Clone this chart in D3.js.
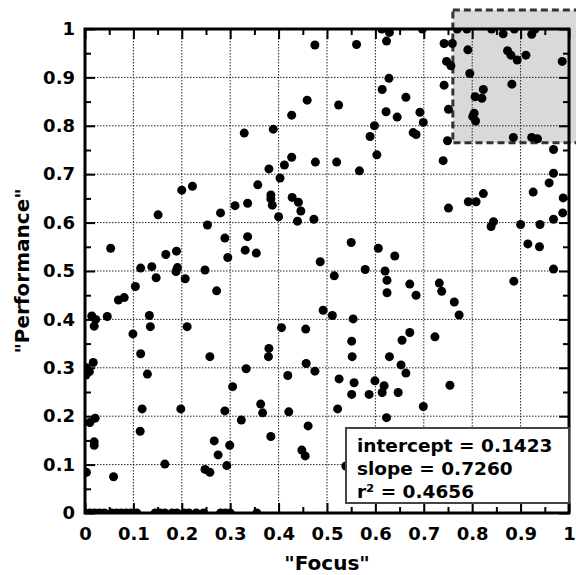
<!DOCTYPE html>
<html lang="en">
<head>
    <meta charset="UTF-8">
    <title>Focus vs Performance</title>
    <script src="https://d3js.org/d3.v7.min.js"></script>
    <style>
        body {
            margin: 0;
            background: #fff;
            font-family: "DejaVu Sans", sans-serif;
        }
        .tick-label text {
            font-size: 18px;
            font-weight: bold;
            fill: #000;
        }
        .axis-title {
            font-size: 20px;
            font-weight: bold;
        }
        .stats-text {
            font-size: 18.5px;
            font-weight: bold;
        }
    </style>
</head>
<body>
    <div id="chart"></div>
    <script>
        // values
        const focus = [
            0.329, 0.200, 0.222, 0.475, 0.561, 0.629, 0.613, 0.623, 0.628, 0.614, 0.663, 0.459, 0.524, 0.427,
            0.622, 0.645, 0.598, 0.389, 0.589, 0.603, 0.427, 0.412, 0.380, 0.476, 0.520, 0.567, 0.403, 0.357,
            0.697, 0.742, 0.759, 0.747, 0.756, 0.742, 0.692, 0.699, 0.678, 0.684, 0.751, 0.749, 0.740,
            0.769, 0.789, 0.791, 0.795, 0.823, 0.806, 0.820, 0.804, 0.801, 0.807, 0.840, 0.864, 0.887, 0.923,
            0.930, 0.873, 0.880, 0.893, 0.911, 0.986, 0.882, 0.885, 0.923, 0.935, 0.968, 0.968, 0.959,
            0.151, 0.053, 0.310, 0.336, 0.280, 0.253, 0.289, 0.336, 0.331, 0.295, 0.167, 0.189, 0.115, 0.138,
            0.147, 0.191, 0.188, 0.207, 0.248, 0.272, 0.104, 0.069, 0.081, 0.014, 0.022, 0.019, 0.046, 0.133,
            0.135, 0.099, 0.211,
            0.384, 0.384, 0.387, 0.428, 0.441, 0.446, 0.439, 0.473, 0.400, 0.354, 0.550, 0.606, 0.640, 0.486,
            0.515, 0.579, 0.620, 0.624, 0.624, 0.671, 0.492, 0.511, 0.554, 0.406, 0.456, 0.551, 0.655, 0.671, 0.380,
            0.926, 0.988, 0.987, 0.968, 0.940, 0.900, 0.915, 0.939, 0.968, 0.886, 0.823, 0.792, 0.808, 0.751,
            0.844, 0.839, 0.684, 0.732, 0.737, 0.763, 0.773, 0.723,
            0.017, 0.009, 0.003, 0.002, 0.115, 0.129, 0.258, 0.333, 0.305, 0.118, 0.198, 0.289, 0.323, 0.021,
            0.010, 0.114, 0.019, 0.019, 0.267, 0.299, 0.275, 0.293, 0.165, 0.248, 0.258, 0.003, 0.059,
            0.379, 0.419, 0.457, 0.475, 0.525, 0.556, 0.552, 0.551, 0.587, 0.599, 0.618, 0.614, 0.647, 0.629,
            0.653, 0.663, 0.363, 0.367, 0.421, 0.522, 0.623, 0.461, 0.384, 0.448, 0.455, 0.539,
            0.754, 0.699,
            0.000, 0.010, 0.020, 0.030, 0.040, 0.055, 0.065, 0.075, 0.085, 0.095, 0.107, 0.145, 0.155, 0.165,
            0.180, 0.190, 0.205, 0.215, 0.230, 0.245, 0.280, 0.290, 0.300, 0.355
        ];
        const performance = [
            0.785, 0.667, 0.675, 0.967, 0.968, 0.993, 1.000, 0.975, 0.898, 0.875, 0.859, 0.853, 0.843, 0.822,
            0.829, 0.818, 0.800, 0.793, 0.778, 0.740, 0.735, 0.719, 0.711, 0.725, 0.725, 0.707, 0.692, 0.678,
            1.000, 0.970, 0.970, 0.933, 0.924, 0.884, 0.828, 0.807, 0.786, 0.782, 0.834, 0.769, 0.728,
            1.000, 1.000, 0.957, 0.908, 0.875, 0.860, 0.857, 0.826, 0.819, 0.810, 1.000, 0.990, 1.000, 0.989,
            1.000, 0.955, 0.946, 0.936, 0.946, 0.933, 0.886, 0.776, 0.776, 0.773, 0.751, 0.702, 0.682,
            0.616, 0.547, 0.635, 0.640, 0.620, 0.595, 0.568, 0.571, 0.543, 0.528, 0.534, 0.541, 0.506, 0.509,
            0.486, 0.507, 0.499, 0.484, 0.502, 0.459, 0.468, 0.440, 0.445, 0.407, 0.400, 0.386, 0.406, 0.408,
            0.385, 0.370, 0.385,
            0.657, 0.649, 0.636, 0.652, 0.642, 0.624, 0.603, 0.607, 0.612, 0.537, 0.559, 0.547, 0.531, 0.519,
            0.490, 0.503, 0.500, 0.481, 0.455, 0.473, 0.419, 0.408, 0.401, 0.383, 0.380, 0.355, 0.357, 0.373, 0.340,
            0.663, 0.651, 0.620, 0.607, 0.596, 0.596, 0.556, 0.550, 0.504, 0.479, 0.660, 0.643, 0.643, 0.630,
            0.602, 0.592, 0.450, 0.475, 0.458, 0.436, 0.409, 0.364,
            0.311, 0.292, 0.300, 0.285, 0.329, 0.287, 0.323, 0.298, 0.261, 0.215, 0.215, 0.211, 0.192, 0.196,
            0.187, 0.169, 0.147, 0.140, 0.149, 0.140, 0.120, 0.098, 0.101, 0.090, 0.084, 0.084, 0.075,
            0.323, 0.284, 0.309, 0.293, 0.277, 0.269, 0.323, 0.245, 0.245, 0.273, 0.263, 0.249, 0.249, 0.323,
            0.306, 0.289, 0.225, 0.207, 0.209, 0.215, 0.197, 0.180, 0.158, 0.130, 0.118, 0.097,
            0.264, 0.220,
            0, 0, 0, 0, 0, 0, 0, 0, 0, 0, 0, 0, 0, 0,
            0, 0, 0, 0, 0, 0, 0, 0, 0, 0
        ];
        const majorTicks = [0, 0.1, 0.2, 0.3, 0.4, 0.5, 0.6, 0.7, 0.8, 0.9, 1];
        const minorTicks = [0.05, 0.15, 0.25, 0.35, 0.45, 0.55, 0.65, 0.75, 0.85, 0.95];
        const zoomBox = { x: [0.76, 1.04], y: [0.765, 1.039] };
        const statLines = ['intercept = 0.1423', 'slope = 0.7260', 'r\u00b2 = 0.4656'];

        const width = 576, height = 575;
        const plotLeft = 85, plotRight = 569, plotTop = 29, plotBottom = 513;

        const x = d3.scaleLinear().domain([0, 1]).range([plotLeft, plotRight]);
        const y = d3.scaleLinear().domain([0, 1]).range([plotBottom, plotTop]);

        const svg = d3.select('#chart').append('svg')
            .attr('width', width)
            .attr('height', height);

        svg.append('defs').append('clipPath')
            .attr('id', 'plot-clip')
            .append('rect')
            .attr('x', plotLeft).attr('y', plotTop)
            .attr('width', plotRight - plotLeft).attr('height', plotBottom - plotTop);

        // highlighted region, drawn below everything else
        svg.append('rect')
            .attr('x', x(zoomBox.x[0]))
            .attr('y', y(zoomBox.y[1]))
            .attr('width', x(zoomBox.x[1]) - x(zoomBox.x[0]))
            .attr('height', y(zoomBox.y[0]) - y(zoomBox.y[1]))
            .attr('fill', '#d9d9d9')
            .attr('stroke', '#333')
            .attr('stroke-width', 3)
            .attr('stroke-dasharray', '7,4');

        // dotted grid
        const grid = svg.append('g')
            .attr('stroke', '#222')
            .attr('stroke-width', 1)
            .attr('stroke-dasharray', '1.5,1.5');
        grid.selectAll('.gx').data(majorTicks.slice(1, -1)).enter().append('line')
            .attr('x1', d => x(d)).attr('x2', d => x(d))
            .attr('y1', plotTop).attr('y2', plotBottom);
        grid.selectAll('.gy').data(majorTicks.slice(1, -1)).enter().append('line')
            .attr('y1', d => y(d)).attr('y2', d => y(d))
            .attr('x1', plotLeft).attr('x2', plotRight);

        // points
        const pts = focus.map((f, i) => ({ f: f, p: performance[i] }));
        svg.append('g')
            .attr('clip-path', 'url(#plot-clip)')
            .selectAll('circle')
            .data(pts)
            .enter()
            .append('circle')
            .attr('cx', d => x(d.f))
            .attr('cy', d => y(d.p))
            .attr('r', 4.5)
            .attr('fill', '#000');

        // ticks on all four sides, pointing inwards
        const fmt = d3.format('.1~f');
        function addAxis(axisFn, scale, pad, transform, labels) {
            const major = axisFn(scale).tickValues(majorTicks).tickSize(-10).tickPadding(labels ? pad : 0)
                .tickFormat(labels ? fmt : '');
            const minor = axisFn(scale).tickValues(minorTicks).tickSize(-6).tickFormat('');
            [major, minor].forEach(a => {
                const g = svg.append('g')
                    .attr('class', 'tick-label')
                    .attr('transform', transform)
                    .call(a);
                g.select('.domain').remove();
                g.selectAll('line').attr('stroke', '#000').attr('stroke-width', 2);
                g.selectAll('text').attr('font-family', '"DejaVu Sans", sans-serif');
            });
        }
        addAxis(d3.axisBottom, x, 14, `translate(0,${plotBottom})`, true);
        addAxis(d3.axisTop, x, 0, `translate(0,${plotTop})`, false);
        addAxis(d3.axisLeft, y, 10, `translate(${plotLeft},0)`, true);
        addAxis(d3.axisRight, y, 0, `translate(${plotRight},0)`, false);

        // frame
        svg.append('rect')
            .attr('x', plotLeft).attr('y', plotTop)
            .attr('width', plotRight - plotLeft).attr('height', plotBottom - plotTop)
            .attr('fill', 'none')
            .attr('stroke', '#000')
            .attr('stroke-width', 3);

        // axis titles
        svg.append('text')
            .attr('class', 'axis-title')
            .attr('x', (plotLeft + plotRight) / 2)
            .attr('y', 570)
            .attr('text-anchor', 'middle')
            .text('"Focus"');

        svg.append('text')
            .attr('class', 'axis-title')
            .attr('transform', `translate(29,${(plotTop + plotBottom) / 2}) rotate(-90)`)
            .attr('text-anchor', 'middle')
            .text('"Performance"');

        // regression stats box
        const box = svg.append('g');
        box.append('rect')
            .attr('x', 346).attr('y', 428)
            .attr('width', plotRight - 346).attr('height', 75)
            .attr('fill', '#fff')
            .attr('stroke', '#444')
            .attr('stroke-width', 2);
        box.selectAll('text')
            .data(statLines)
            .enter()
            .append('text')
            .attr('class', 'stats-text')
            .attr('x', 357)
            .attr('y', (d, i) => 452 + i * 23)
            .text(d => d);
    </script>
</body>
</html>
